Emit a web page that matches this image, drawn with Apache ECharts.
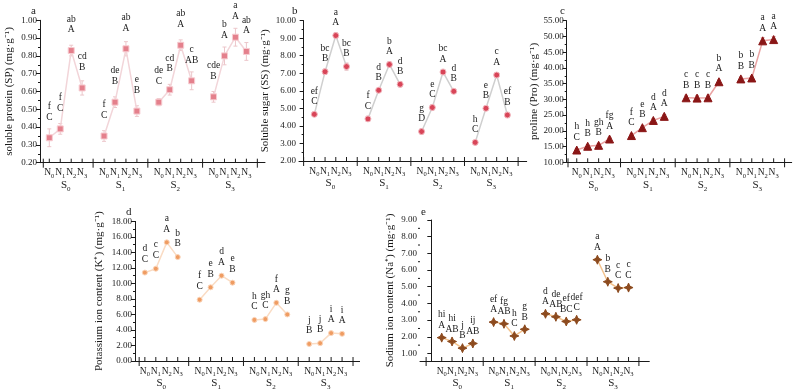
<!DOCTYPE html>
<html>
<head>
<meta charset="utf-8">
<script src="https://cdn.jsdelivr.net/npm/echarts@6/dist/echarts.min.js"></script>
<style>
html, body { margin: 0; padding: 0; background: #fff; }
#chart { width: 800px; height: 391px; }
</style>
</head>
<body>
<div id="chart"></div>
<script>
// each salt level S0..S3 holds four nitrogen levels N0..N3
const nSubs = ['0', '1', '2', '3']
const sSubs = ['0', '1', '2', '3']

// (a) soluble protein
const spValues = [0.34, 0.39, 0.83, 0.62, 0.35, 0.54, 0.84, 0.49, 0.54, 0.61, 0.86, 0.66, 0.57, 0.80, 0.905, 0.825]
const spErr = [0.05, 0.03, 0.03, 0.04, 0.03, 0.03, 0.04, 0.03, 0.02, 0.03, 0.03, 0.05, 0.03, 0.05, 0.05, 0.05]
const spSig = ['f', 'f', 'ab', 'cd', 'f', 'de', 'ab', 'e', 'de', 'cd', 'ab', 'c', 'cde', 'b', 'a', 'ab']
const spGrp = ['C', 'C', 'A', 'B', 'C', 'B', 'A', 'B', 'C', 'B', 'A', 'AB', 'B', 'A', 'A', 'A']

// (b) soluble sugar
const ssValues = [4.66, 7.09, 9.15, 7.38, 4.40, 6.03, 7.50, 6.37, 3.68, 5.05, 7.07, 5.97, 3.06, 5.00, 6.90, 4.62]
const ssErr = [0.1, 0.15, 0.15, 0.2, 0.15, 0.1, 0.15, 0.15, 0.15, 0.15, 0.15, 0.1, 0.1, 0.1, 0.1, 0.15]
const ssSig = ['ef', 'bc', 'a', 'bc', 'f', 'd', 'b', 'd', 'g', 'e', 'bc', 'd', 'h', 'e', 'c', 'ef']
const ssGrp = ['C', 'B', 'A', 'B', 'C', 'B', 'A', 'B', 'D', 'C', 'A', 'B', 'C', 'B', 'A', 'B']

// (c) proline
const proValues = [13.9, 15.1, 15.4, 17.4, 18.5, 21.0, 23.3, 24.6, 30.5, 30.4, 30.5, 35.6, 36.5, 36.8, 48.6, 49.0]
const proErr = [0.5, 0.5, 0.6, 0.5, 0.5, 0.5, 0.6, 0.6, 0.8, 0.8, 0.8, 0.6, 0.6, 0.6, 1.0, 1.0]
const proSig = ['h', 'h', 'gh', 'fg', 'f', 'e', 'd', 'd', 'c', 'c', 'c', 'b', 'b', 'b', 'a', 'a']
const proGrp = ['C', 'B', 'B', 'A', 'C', 'B', 'A', 'A', 'B', 'B', 'B', 'A', 'B', 'B', 'A', 'A']

// (d) potassium
const kValues = [11.4, 11.9, 15.3, 13.4, 7.9, 9.5, 11.0, 10.1, 5.3, 5.4, 7.5, 6.0, 2.2, 2.3, 3.6, 3.5]
const kErr = [0.2, 0.2, 0.2, 0.2, 0.2, 0.2, 0.2, 0.2, 0.15, 0.15, 0.2, 0.15, 0.1, 0.1, 0.15, 0.15]
const kSig = ['d', 'c', 'a', 'b', 'f', 'e', 'd', 'e', 'h', 'gh', 'f', 'g', 'j', 'j', 'i', 'i']
const kGrp = ['C', 'C', 'A', 'B', 'C', 'B', 'A', 'B', 'C', 'C', 'A', 'B', 'B', 'B', 'A', 'A']

// (e) sodium
const naValues = [1.95, 1.72, 1.32, 1.60, 2.88, 2.78, 2.05, 2.45, 3.38, 3.20, 2.92, 3.02, 6.62, 5.30, 4.92, 4.95]
const naErr = [0.08, 0.08, 0.08, 0.08, 0.08, 0.08, 0.08, 0.08, 0.08, 0.08, 0.08, 0.08, 0.1, 0.1, 0.08, 0.08]
const naSig = ['hi', 'hi', 'j', 'ij', 'ef', 'fg', 'h', 'g', 'd', 'de', 'ef', 'def', 'a', 'b', 'c', 'c']
const naGrp = ['A', 'AB', 'B', 'AB', 'A', 'AB', 'C', 'B', 'A', 'AB', 'BC', 'C', 'A', 'B', 'C', 'C']

const FONT = '"Liberation Serif", "Times New Roman", serif'
const INK = '#1a1a1a'

const panels = [
  {
    letter: 'a', letterPos: [26, 1],
    grid: { left: 40, top: 20.3, width: 225, height: 142.4 },
    xMin: 0.15, xMax: 20.7, firstDiv: 0.45,
    yMin: 0.2, yMax: 1.0, yStep: 0.1,
    name: 'soluble protein (SP) (mg·g⁻¹)', nameGap: 25,
    values: spValues, err: spErr, sig: spSig, grp: spGrp,
    symbol: 'rect', size: 6, color: '#e4808c', border: '#f7cdd2', line: '#f2d5d9', errColor: '#ecc6ca', labelDist: 12,
  },
  {
    letter: 'b', letterPos: [287, 1],
    grid: { left: 299, top: 20.6, width: 227.7, height: 140.4 },
    xMin: -0.43, xMax: 20.8, firstDiv: 0,
    yMin: 2, yMax: 10, yStep: 1,
    name: 'Soluble sugar (SS) (mg·g⁻¹)', nameGap: 28,
    values: ssValues, err: ssErr, sig: ssSig, grp: ssGrp,
    symbol: 'circle', size: 6, color: '#d84558', border: '#f3b9c0', line: '#cfcfcf', errColor: '#e0b0b6', labelDist: 4,
  },
  {
    letter: 'c', letterPos: [555, 1],
    grid: { left: 566.7, top: 20.7, width: 225, height: 141.6 },
    xMin: 0.08, xMax: 20.65, firstDiv: 0.2,
    yMin: 10, yMax: 55, yStep: 5,
    name: 'proline (Pro) (mg·g⁻¹)', nameGap: 27,
    values: proValues, err: proErr, sig: proSig, grp: proGrp,
    symbol: 'triangle', size: 8, color: '#8a1616', border: '#8a1616', line: '#eaa3a3', errColor: '#e9a8a8', labelDist: 3,
  },
  {
    letter: 'd', letterPos: [121, 202],
    grid: { left: 135, top: 221.4, width: 224.6, height: 141.9 },
    xMin: 0.1, xMax: 20.6, firstDiv: 0.48,
    yMin: 0, yMax: 18, yStep: 2,
    name: 'Potassium ion content (K⁺) (mg·g⁻¹)', nameGap: 30,
    values: kValues, err: kErr, sig: kSig, grp: kGrp,
    symbol: 'circle', size: 5, color: '#ef9c62', border: '#fbd6bb', line: '#fadcc4', errColor: '#f6c7a4', labelDist: 5,
  },
  {
    letter: 'e', letterPos: [416, 202],
    grid: { left: 420, top: 220, width: 229.3, height: 145 },
    xMin: -1.09, xMax: 21, firstDiv: -0.5,
    yMin: 0.55, yMax: 9, yStep: 1, yLabels: [1, 2, 3, 4, 5, 6, 7, 8, 9],
    name: 'Sodium ion content (Na⁺) (mg·g⁻¹)', nameGap: 24,
    values: naValues, err: naErr, sig: naSig, grp: naGrp,
    symbol: 'path://M0,-10 L3,-3 L10,0 L3,3 L0,10 L-3,3 L-10,0 L-3,-3 Z', size: 9, color: '#8c4a1e', border: '#8c4a1e', line: '#f3c38e', errColor: '#e9b98c', labelDist: 2,
  },
]

const pos = (i) => Math.floor(i / 4) * 5 + (i % 4) + 1
const nPositions = Array.from({ length: 16 }, (_, i) => pos(i))
const sCentres = sSubs.map((_, s) => s * 5 + 2.5)

const grid = []
const xAxis = []
const yAxis = []
const series = []
const title = []

panels.forEach((p, gi) => {
  grid.push(p.grid)
  title.push({
    text: p.letter, left: p.letterPos[0], top: p.letterPos[1],
    textStyle: { fontFamily: FONT, fontSize: 11, fontWeight: 'normal', color: INK },
  })
  const dividers = [p.firstDiv, 5, 10, 15, 20]
  // N labels
  xAxis.push({
    type: 'value', gridIndex: gi, min: p.xMin, max: p.xMax, position: 'bottom',
    splitLine: { show: false },
    axisLine: { onZero: false, lineStyle: { color: INK, width: 1 } },
    axisTick: { show: false },
    axisLabel: {
      customValues: nPositions, margin: 4,
      formatter: (v) => '{m|N}{s|' + nSubs[Math.round(v) % 5 - 1] + '}',
      rich: {
        m: { fontFamily: FONT, fontSize: 9.5, color: INK, lineHeight: 11, verticalAlign: 'bottom' },
        s: { fontFamily: FONT, fontSize: 6.5, color: INK, lineHeight: 11, verticalAlign: 'bottom', padding: [0, 0, -2, 0] },
      },
    },
  })
  // S group labels
  xAxis.push({
    type: 'value', gridIndex: gi, min: p.xMin, max: p.xMax, position: 'bottom',
    splitLine: { show: false },
    axisLine: { show: false, onZero: false },
    axisTick: { show: false },
    axisLabel: {
      customValues: sCentres, margin: 15,
      formatter: (v) => '{m|S}{s|' + sSubs[Math.floor(v / 5)] + '}',
      rich: {
        m: { fontFamily: FONT, fontSize: 11, color: INK, lineHeight: 13, verticalAlign: 'bottom' },
        s: { fontFamily: FONT, fontSize: 7, color: INK, lineHeight: 13, verticalAlign: 'bottom', padding: [0, 0, -2, 0] },
      },
    },
  })
  const yBase = {
    type: 'value', gridIndex: gi, min: p.yMin, max: p.yMax,
    splitLine: { show: false },
    axisLine: { show: true, lineStyle: { color: INK, width: 1 } },
    name: p.name, nameLocation: 'middle', nameGap: p.nameGap,
    nameTextStyle: { fontFamily: FONT, fontSize: 11, color: INK },
  }
  if (p.yLabels) {
    yAxis.push(Object.assign(yBase, {
      axisTick: { customValues: p.yLabels, length: 4, lineStyle: { color: INK } },
      axisLabel: { customValues: p.yLabels, fontFamily: FONT, fontSize: 9, color: INK, margin: 3, formatter: (v) => v.toFixed(2) },
    }))
  } else {
    yAxis.push(Object.assign(yBase, {
      interval: p.yStep,
      axisTick: { length: 4, lineStyle: { color: INK } },
      minorTick: { show: true, splitNumber: 2, length: 2, lineStyle: { color: INK } },
      axisLabel: { fontFamily: FONT, fontSize: 9, color: INK, margin: 3, formatter: (v) => v.toFixed(2) },
    }))
  }
  const yIndex = yAxis.length - 1

  // x-axis tick marks: short ones at each N, long crossing ones between S groups
  const tickData = nPositions.map((x) => [x, 0]).concat(dividers.map((x) => [x, 1]))
  series.push({
    type: 'custom', xAxisIndex: gi * 2, yAxisIndex: yIndex, silent: true, clip: false, z: 5,
    data: tickData,
    renderItem: (params, api) => {
      const pt = api.coord([api.value(0), p.yMin])
      const long = api.value(1) === 1
      return {
        type: 'line',
        shape: { x1: pt[0], y1: pt[1] - 4, x2: pt[0], y2: pt[1] + (long ? 5 : 0) },
        style: { stroke: INK, lineWidth: 1 },
      }
    },
  })
  // minor ticks for the custom-labelled y axis
  if (p.yLabels) {
    series.push({
      type: 'custom', xAxisIndex: gi * 2, yAxisIndex: yIndex, silent: true, clip: false, z: 5,
      data: p.yLabels.slice(0, -1).map((v) => [p.xMin, v + 0.5]),
      renderItem: (params, api) => {
        const pt = api.coord([api.value(0), api.value(1)])
        return {
          type: 'line',
          shape: { x1: pt[0] - 2, y1: pt[1], x2: pt[0], y2: pt[1] },
          style: { stroke: INK, lineWidth: 1 },
        }
      },
    })
  }

  const lineData = []
  p.values.forEach((v, i) => {
    lineData.push({ value: [pos(i), v], name: p.sig[i] + '\n' + p.grp[i] })
    if (i % 4 === 3 && i < p.values.length - 1) lineData.push({ value: [pos(i) + 1, '-'] })
  })
  series.push({
    type: 'custom', xAxisIndex: gi * 2, yAxisIndex: yIndex, silent: true, z: 1,
    data: p.values.map((v, i) => [pos(i), v - p.err[i], v + p.err[i]]),
    renderItem: (params, api) => {
      const lo = api.coord([api.value(0), api.value(1)])
      const hi = api.coord([api.value(0), api.value(2)])
      const style = { stroke: p.errColor, lineWidth: 1 }
      return {
        type: 'group', children: [
          { type: 'line', shape: { x1: lo[0], y1: lo[1], x2: hi[0], y2: hi[1] }, style },
          { type: 'line', shape: { x1: lo[0] - 2, y1: lo[1], x2: lo[0] + 2, y2: lo[1] }, style },
          { type: 'line', shape: { x1: hi[0] - 2, y1: hi[1], x2: hi[0] + 2, y2: hi[1] }, style },
        ],
      }
    },
  })
  series.push({
    type: 'line', xAxisIndex: gi * 2, yAxisIndex: yIndex, z: 3,
    data: lineData, connectNulls: false,
    symbol: p.symbol, symbolSize: p.size, showAllSymbol: true,
    lineStyle: { color: p.line, width: 1.5 },
    itemStyle: { color: p.color, borderColor: p.border, borderWidth: 1 },
    label: {
      show: true, position: 'top', distance: p.labelDist,
      fontFamily: FONT, fontSize: 9.5, lineHeight: 10.5, color: INK,
      formatter: (q) => q.name || '',
    },
    emphasis: { disabled: true },
    animation: false,
  })
})

const chart = echarts.init(document.getElementById('chart'), null, { renderer: 'canvas' })
chart.setOption({
  backgroundColor: '#fff',
  animation: false,
  title, grid, xAxis, yAxis, series,
})
</script>
</body>
</html>
